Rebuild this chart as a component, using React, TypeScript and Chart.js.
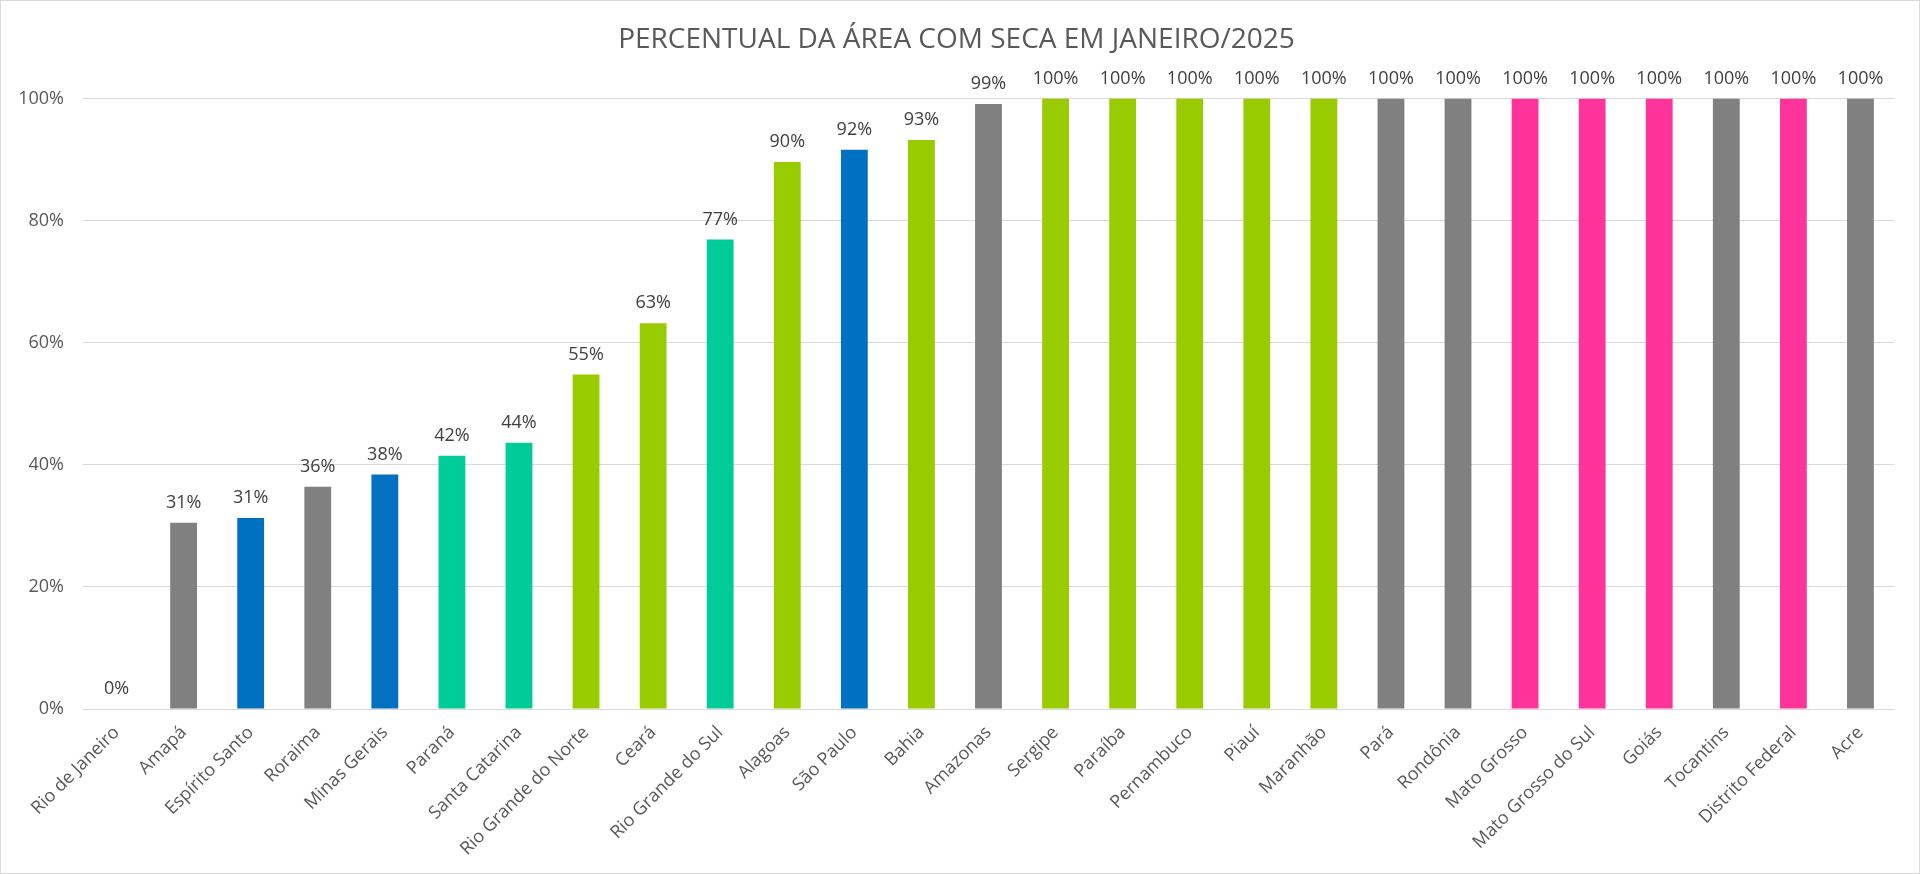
import React, { useEffect, useRef } from "react";
import { Chart, registerables } from "chart.js";

Chart.register(...registerables);

const TITLE = "PERCENTUAL DA ÁREA COM SECA EM JANEIRO/2025";

const states = [
  "Rio de Janeiro", "Amapá", "Espírito Santo", "Roraima", "Minas Gerais", "Paraná",
  "Santa Catarina", "Rio Grande do Norte", "Ceará", "Rio Grande do Sul", "Alagoas",
  "São Paulo", "Bahia", "Amazonas", "Sergipe", "Paraíba", "Pernambuco", "Piauí",
  "Maranhão", "Pará", "Rondônia", "Mato Grosso", "Mato Grosso do Sul", "Goiás",
  "Tocantins", "Distrito Federal", "Acre",
];

// Share of each state's area under drought (%)
const droughtShare = [
  0, 30.5, 31.3, 36.4, 38.4, 41.5, 43.6, 54.8, 63.2, 76.9, 89.6, 91.6, 93.2, 99.1,
  100, 100, 100, 100, 100, 100, 100, 100, 100, 100, 100, 100, 100,
];

// Region of each state, used to pick the bar colour
const regions = [
  "SE", "N", "SE", "N", "SE", "S", "S", "NE", "NE", "S", "NE", "SE", "NE", "N",
  "NE", "NE", "NE", "NE", "NE", "N", "N", "CO", "CO", "CO", "N", "CO", "N",
];

const regionColors: Record<string, string> = {
  N: "#808080",
  NE: "#99CC00",
  SE: "#0070C0",
  S: "#00CC99",
  CO: "#FF3399",
};

const yTicks = [0, 20, 40, 60, 80, 100];

const FONT = "'Open Sans', sans-serif";

const valueLabels = {
  id: "valueLabels",
  afterDatasetsDraw(chart: Chart) {
    const ctx = chart.ctx;
    const meta = chart.getDatasetMeta(0);
    ctx.save();
    ctx.font = `18px ${FONT}`;
    ctx.fillStyle = "#404040";
    ctx.textAlign = "center";
    ctx.textBaseline = "alphabetic";
    meta.data.forEach((bar: any, i: number) => {
      const v = droughtShare[i];
      ctx.fillText(`${Math.round(v)}%`, bar.x, bar.y - 15);
    });
    ctx.restore();
  },
};

export default function App() {
  const canvasRef = useRef<HTMLCanvasElement | null>(null);

  useEffect(() => {
    document.body.style.margin = "0";
    const canvas = canvasRef.current;
    if (!canvas) return;
    const chart = new Chart(canvas, {
      type: "bar",
      data: {
        labels: states,
        datasets: [
          {
            data: droughtShare,
            backgroundColor: regions.map((r) => regionColors[r]),
            categoryPercentage: 1,
            barPercentage: 0.4,
          },
        ],
      },
      options: {
        responsive: false,
        animation: false,
        devicePixelRatio: 1,
        layout: { padding: { left: 18, right: 25, top: 0, bottom: 0 } },
        plugins: {
          legend: { display: false },
          tooltip: { enabled: false },
          title: {
            display: true,
            text: TITLE,
            color: "#595959",
            font: { family: FONT, size: 28, weight: "normal" },
            padding: { top: 22, bottom: 42 },
          },
        },
        scales: {
          x: {
            grid: { display: false, drawTicks: false },
            border: { display: false },
            ticks: {
              color: "#595959",
              font: { family: FONT, size: 18 },
              minRotation: 45,
              maxRotation: 45,
              autoSkip: false,
              padding: 13,
            },
            afterFit(scale: any) {
              scale.height = 164;
            },
          },
          y: {
            min: 0,
            max: 100,
            afterBuildTicks(scale: any) {
              scale.ticks = yTicks.map((v) => ({ value: v }));
            },
            grid: { color: "#D9D9D9", lineWidth: 1, drawTicks: false },
            border: { display: false },
            ticks: {
              color: "#595959",
              font: { family: FONT, size: 18 },
              padding: 19,
              callback: (v: any) => `${v}%`,
            },
            afterFit(scale: any) {
              scale.width = 64;
            },
          },
        },
      },
      plugins: [valueLabels],
    });
    return () => chart.destroy();
  }, []);

  return (
    <div
      style={{
        position: "absolute",
        left: 0,
        top: 0,
        width: 1920,
        height: 874,
        boxSizing: "border-box",
        border: "1px solid #D9D9D9",
        background: "#fff",
      }}
    >
      <canvas ref={canvasRef} width={1918} height={872} style={{ display: "block" }} />
    </div>
  );
}
